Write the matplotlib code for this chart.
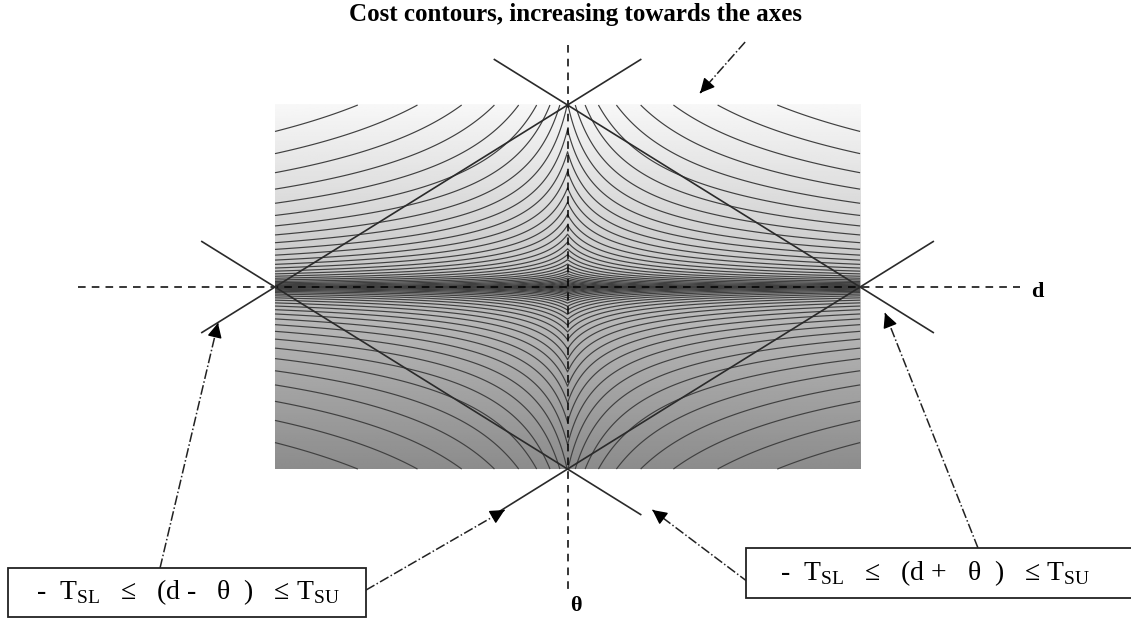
import numpy as np
import matplotlib
matplotlib.use("Agg")
import matplotlib.pyplot as plt
from matplotlib.patches import Rectangle

plt.rcParams['font.family'] = ['Liberation Serif', 'DejaVu Serif']
plt.rcParams['mathtext.fontset'] = 'custom'
plt.rcParams['mathtext.rm'] = 'Liberation Serif'

# tolerance limits (diagram units)
T_SL = 1.0
T_SU = 1.0
# cost surface: contours of (|d| + eps_d) * (|theta| + eps_t)^2, log spaced levels
eps_d, eps_t = 0.07, 0.02
theta_power = 2.0
cost_levels = np.arange(-10.4, 0.1, 0.3)
# background shading, top -> bottom
shade_top, shade_bottom = 0.97, 0.55

title = "Cost contours, increasing towards the axes"
box_left = r"-  T$_{\mathrm{SL}}$   ≤   (d -   θ  )   ≤ T$_{\mathrm{SU}}$"
box_right = r"-  T$_{\mathrm{SL}}$   ≤   (d +   θ  )   ≤ T$_{\mathrm{SU}}$"

fig = plt.figure(figsize=(11.31, 6.19), dpi=100)
ax = fig.add_axes([0, 0, 1, 1])
ax.set_xlim(-1.940, 1.926)
ax.set_ylim(-1.824, 1.577)
ax.axis('off')

# shaded cost image
shade = np.linspace(shade_top, shade_bottom, 200)[:, None] * np.ones((1, 2))
ax.imshow(shade, cmap='gray', vmin=0, vmax=1, extent=[-T_SL, T_SU, -T_SL, T_SU],
          aspect='auto', interpolation='bilinear', zorder=0)

d = np.linspace(-T_SL, T_SU, 1201)
th = np.linspace(-T_SL, T_SU, 1201)
D, TH = np.meshgrid(d, th)
Z = np.log(np.abs(D) + eps_d) + theta_power * np.log(np.abs(TH) + eps_t)
ax.contour(D, TH, Z, levels=cost_levels, colors='#404040', linewidths=0.85,
           negative_linestyles='solid', zorder=1)

# axes
ax.plot([-1.674, 1.547], [0, 0], color='k', lw=1.1, ls=(0, (5, 4)), zorder=3)
ax.plot([0, 0], [1.33, -1.665], color='k', lw=1.1, ls=(0, (5, 4)), zorder=3)
ax.text(1.605, -0.03, "d", fontsize=16, fontweight='bold', ha='center', va='center')
ax.text(0.03, -1.75, "θ", fontsize=16, fontweight='bold', ha='center', va='center')

# constraint lines d - theta = -T_SL, T_SU and d + theta = -T_SL, T_SU
ext = 0.25
for s, c in [(-1, -T_SL), (-1, T_SU), (1, -T_SL), (1, T_SU)]:
    dd = np.array([min(c, 0) - ext, max(c, 0) + ext])
    tt = dd - c if s == -1 else c - dd
    ax.plot(dd, tt, color='#2a2a2a', lw=1.2, zorder=4)

# annotation arrows (tail, head)
arrows = [((0.607, 1.346), (0.453, 1.066)),
          ((-1.393, -1.544), (-1.195, -0.198)),
          ((-0.689, -1.665), (-0.215, -1.225)),
          ((0.617, -1.621), (0.290, -1.225)),
          ((1.403, -1.434), (1.085, -0.143))]
for (x0, y0), (x1, y1) in arrows:
    ax.plot([x0, x1], [y0, y1], color='#222222', lw=1.1, ls='-.', zorder=5)
    ax.annotate('', xy=(x1, y1), xytext=(x1 - (x1 - x0) * 0.02, y1 - (y1 - y0) * 0.02),
                arrowprops=dict(arrowstyle='-|>', color='k', lw=1, mutation_scale=22),
                zorder=6)

# constraint boxes
ax.add_patch(Rectangle((-1.913, -1.813), 1.224, 0.269, fill=True, fc='white',
                       ec='#222222', lw=1.3, zorder=6))
ax.add_patch(Rectangle((0.610, -1.709), 1.40, 0.275, fill=True, fc='white',
                       ec='#222222', lw=1.3, zorder=6))
ax.text(-1.297, -1.676, box_left, fontsize=20, ha='center', va='center', zorder=7)
ax.text(1.256, -1.571, box_right, fontsize=20, ha='center', va='center', zorder=7)

fig.text(0.509, 0.977, title, fontsize=18, fontweight='bold', ha='center', va='center')

fig.savefig("out.png", dpi=100)
